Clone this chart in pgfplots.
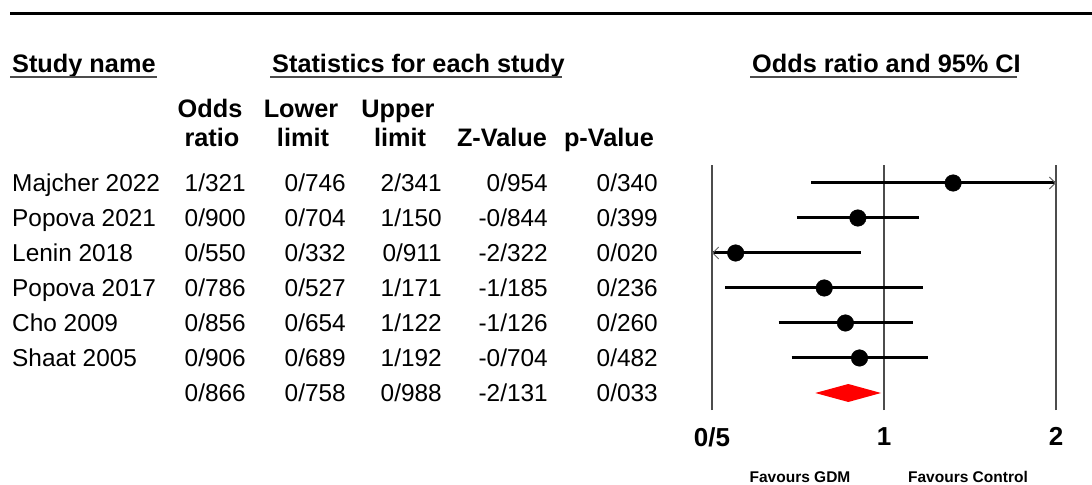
\documentclass[border=0pt]{standalone}
\usepackage{pgfplots}
\pgfplotsset{compat=1.18}
\usepackage{fontspec}
\setmainfont{Liberation Sans}
\usetikzlibrary{arrows.meta}
\tikzset{
  hdr/.style={font=\fontsize{25.3bp}{28bp}\selectfont\bfseries, inner sep=0pt},
  val/.style={font=\fontsize{24.4bp}{28bp}\selectfont, inner sep=0pt},
  fav/.style={font=\fontsize{15.5bp}{18bp}\selectfont\bfseries, inner sep=0pt},
}
\begin{document}
\begin{tikzpicture}
\path[use as bounding box] (0,0) rectangle (1092bp,-485bp);
% top rule
\draw[line width=3bp] (10bp,-13bp) -- (1092bp,-13bp);
% group headers
\node[hdr, anchor=base west] at (12bp,-72bp) {Study name};
\node[hdr, anchor=base west] at (272bp,-72bp) {Statistics for each study};
\node[hdr, anchor=base west] at (752bp,-72bp) {Odds ratio and 95\% CI};
\draw[black!70, line width=1.8bp] (10bp,-77bp) -- (157bp,-77bp);
\draw[black!70, line width=1.8bp] (270bp,-77bp) -- (562bp,-77bp);
\draw[black!70, line width=1.8bp] (750bp,-77bp) -- (1017bp,-77bp);
% column headers
\node[hdr, anchor=base] at (210bp,-117bp) {Odds};
\node[hdr, anchor=base] at (212bp,-146bp) {ratio};
\node[hdr, anchor=base] at (301bp,-117bp) {Lower};
\node[hdr, anchor=base] at (303bp,-146bp) {limit};
\node[hdr, anchor=base] at (398bp,-117bp) {Upper};
\node[hdr, anchor=base] at (400bp,-146bp) {limit};
\node[hdr, anchor=base] at (502bp,-146bp) {Z-Value};
\node[hdr, anchor=base] at (609bp,-146bp) {p-Value};
% table rows
\foreach \y/\n/\a/\b/\c/\d/\e in {
  191.5/Majcher 2022/1\slash321/0\slash746/2\slash341/0\slash954/0\slash340,
  226.5/Popova 2021/0\slash900/0\slash704/1\slash150/-0\slash844/0\slash399,
  261.5/Lenin 2018/0\slash550/0\slash332/0\slash911/-2\slash322/0\slash020,
  296.5/Popova 2017/0\slash786/0\slash527/1\slash171/-1\slash185/0\slash236,
  331.5/Cho 2009/0\slash856/0\slash654/1\slash122/-1\slash126/0\slash260,
  366.5/Shaat 2005/0\slash906/0\slash689/1\slash192/-0\slash704/0\slash482,
  401.5/ /0\slash866/0\slash758/0\slash988/-2\slash131/0\slash033}{
  \node[val, anchor=base west] at (12bp,-\y bp) {\n};
  \node[val, anchor=base east] at (246bp,-\y bp) {\a};
  \node[val, anchor=base east] at (346bp,-\y bp) {\b};
  \node[val, anchor=base east] at (442bp,-\y bp) {\c};
  \node[val, anchor=base east] at (548bp,-\y bp) {\d};
  \node[val, anchor=base east] at (658bp,-\y bp) {\e};
}
\begin{axis}[
  at={(712bp,-410bp)}, anchor=south west,
  scale only axis, width=344bp, height=245bp,
  xmode=log, log basis x=2, xmin=0.5, xmax=2,
  ymin=-6.486, ymax=0.514,
  clip=false,
  axis line style={draw=none},
  xtick={0.5,1,2},
  xticklabels={\textbf{0/5},\textbf{1},\textbf{2}},
  ytick=\empty,
  major tick length=0pt,
  xmajorgrids,
  grid style={black!70, line width=1.3bp},
  xticklabel style={font=\fontsize{26bp}{30bp}\selectfont, yshift=-14bp},
]
\pgfplotsset{ci/.style={black, line width=3bp, mark=none}}
% confidence intervals
\addplot[ci, -{Straight Barb[length=6bp,width=12bp,line width=0.9bp,color=black!60]}] coordinates {(0.746,0) (2,0)};
\addplot[ci] coordinates {(0.704,-1) (1.150,-1)};
\addplot[ci, {Straight Barb[length=6bp,width=12bp,line width=0.9bp,color=black!60]}-] coordinates {(0.5,-2) (0.911,-2)};
\addplot[ci] coordinates {(0.527,-3) (1.171,-3)};
\addplot[ci] coordinates {(0.654,-4) (1.122,-4)};
\addplot[ci] coordinates {(0.689,-5) (1.192,-5)};
% point estimates
\addplot[only marks, mark=*, mark size=8.3bp, black] coordinates {
  (1.321,0) (0.900,-1) (0.550,-2) (0.786,-3) (0.856,-4) (0.906,-5)};
% summary diamond
\addplot[fill=red, draw=none] coordinates {(0.758,-6) (0.866,-5.743) (0.988,-6) (0.866,-6.257)} -- cycle;
\end{axis}
\node[fav] at (800bp,-477bp) {Favours GDM};
\node[fav] at (968bp,-477bp) {Favours Control};
\end{tikzpicture}
\end{document}
